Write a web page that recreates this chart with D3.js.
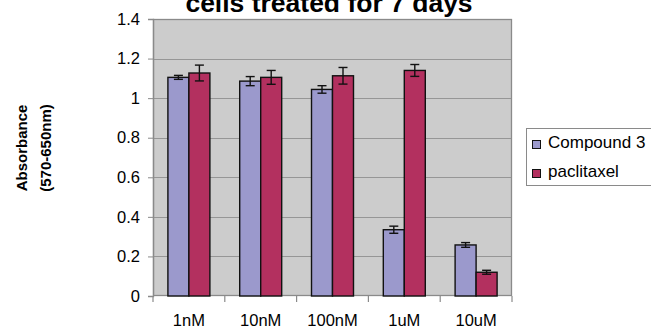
<!DOCTYPE html>
<html><head><meta charset="utf-8">
<script src="https://cdn.jsdelivr.net/npm/d3@7"></script>
<style>body{margin:0;background:#fff}svg{display:block;font-family:"Liberation Sans",Arial,sans-serif}</style>
</head><body><svg id="c" width="651" height="329"></svg>
<script>
const categories = ["1nM","10nM","100nM","1uM","10uM"];
const seriesNames = ["Compound 3","paclitaxel"];
const compound3 = [1.105,1.086,1.044,0.335,0.258];
const compound3Err = [0.01,0.023,0.019,0.018,0.012];
const paclitaxel = [1.127,1.105,1.113,1.14,0.12];
const paclitaxelErr = [0.04,0.035,0.042,0.03,0.01];
const yTicks = [0,0.2,0.4,0.6,0.8,1,1.2,1.4];
const colors = ["#9b99cc","#b3305f"];

const svg = d3.select("#c");
const L=153,R=512,T=19,B=296;
const x = d3.scaleBand().domain(categories).range([L,R]).padding(0);
const xs = d3.scaleBand().domain(seriesNames).range([0,x.bandwidth()]).paddingInner(0).paddingOuter(0.71);
const y = d3.scaleLinear().domain([0,1.4]).range([B,T]);

svg.append("rect").attr("x",L).attr("y",T).attr("width",R-L).attr("height",B-T).attr("fill","#cccccc");
svg.append("g").selectAll("line").data(yTicks.filter(v=>v>0&&v<1.4)).join("line")
  .attr("x1",L).attr("x2",R).attr("y1",d=>Math.round(y(d))+0.5).attr("y2",d=>Math.round(y(d))+0.5)
  .attr("stroke","#969696").attr("stroke-width",1.2);
svg.append("rect").attr("x",L+0.5).attr("y",T+0.5).attr("width",R-L-1).attr("height",B-T-1)
  .attr("fill","none").attr("stroke","#8a8a8a").attr("stroke-width",1.3);

const data = [
  {name:seriesNames[0], vals:compound3, errs:compound3Err, color:colors[0]},
  {name:seriesNames[1], vals:paclitaxel, errs:paclitaxelErr, color:colors[1]}
];
data.forEach(s=>{
  const g = svg.append("g");
  categories.forEach((c,i)=>{
    const bx = x(c)+xs(s.name);
    g.append("rect").attr("x",bx).attr("y",y(s.vals[i])).attr("width",xs.bandwidth()).attr("height",y(0)-y(s.vals[i]))
      .attr("fill",s.color).attr("stroke","#111").attr("stroke-width",1.4);
    const cx = bx+xs.bandwidth()/2;
    const y1=y(s.vals[i]+s.errs[i]), y2=y(s.vals[i]-s.errs[i]);
    g.append("line").attr("x1",cx).attr("x2",cx).attr("y1",y1).attr("y2",y2).attr("stroke","#111").attr("stroke-width",1.4);
    [y1,y2].forEach(yy=>g.append("line").attr("x1",cx-4.5).attr("x2",cx+4.5).attr("y1",yy).attr("y2",yy).attr("stroke","#111").attr("stroke-width",1.4));
  });
});

// y axis
const ya = svg.append("g").attr("transform",`translate(${L},0)`)
  .call(d3.axisLeft(y).tickValues(yTicks).tickSize(5).tickPadding(8).tickFormat(d=>d3.format("")(+d.toFixed(1))));
ya.select(".domain").attr("stroke","#8a8a8a").attr("stroke-width",1.3);
ya.selectAll(".tick line").attr("stroke","#8a8a8a");
ya.selectAll("text").attr("font-size",16.5).attr("fill","#000").attr("font-family","Liberation Sans, Arial, sans-serif");

// x axis
const xa = svg.append("g").attr("transform",`translate(0,${B})`)
  .call(d3.axisBottom(x).tickSize(0).tickPadding(18));
xa.select(".domain").remove();
xa.selectAll("text").attr("font-size",16.5).attr("fill","#000").attr("font-family","Liberation Sans, Arial, sans-serif");
svg.append("g").selectAll("line").data(d3.range(categories.length+1)).join("line")
  .attr("x1",i=>i<categories.length?x(categories[i]):R).attr("x2",i=>i<categories.length?x(categories[i]):R)
  .attr("y1",B).attr("y2",B+6).attr("stroke","#8a8a8a").attr("stroke-width",1.2);

// title
svg.append("text").attr("x",329).attr("y",12).attr("text-anchor","middle")
  .attr("font-size",26.5).attr("font-weight","bold").text("cells treated for 7 days");

// y title
const yt = svg.append("text").attr("transform","translate(27,148) rotate(-90)").attr("text-anchor","middle")
  .attr("font-size",15).attr("font-weight","bold");
yt.append("tspan").attr("x",0).attr("y",0).text("Absorbance");
yt.append("tspan").attr("x",0).attr("y",24).text("(570-650nm)");

// legend
const lg = svg.append("g");
lg.append("rect").attr("x",526.5).attr("y",128.5).attr("width",140).attr("height",57).attr("fill","#fff").attr("stroke","#8a8a8a");
data.forEach((s,i)=>{
  lg.append("rect").attr("x",532.5).attr("y",140.5+i*29).attr("width",8).attr("height",8).attr("fill",s.color).attr("stroke","#111");
  lg.append("text").attr("x",548).attr("y",148+i*29).attr("font-size",17).text(s.name);
});
</script></body></html>
